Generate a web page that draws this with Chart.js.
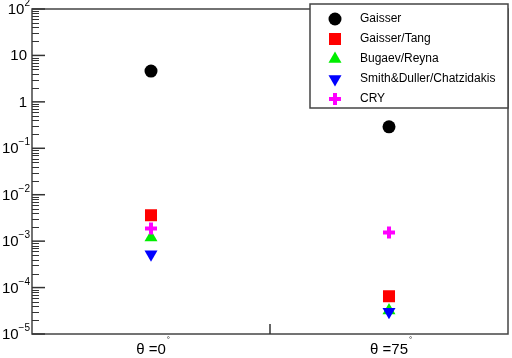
<!DOCTYPE html>
<html>
<head>
<meta charset="utf-8">
<script src="https://cdn.jsdelivr.net/npm/chart.js@4/dist/chart.umd.min.js"></script>
<style>
  html, body { margin: 0; padding: 0; background: #fff; }
  #wrap { width: 512px; height: 358px; }
</style>
</head>
<body>
<div id="wrap"><canvas id="c" width="512" height="358"></canvas></div>
<script>
// data
var categories = ['θ =0', 'θ =75'];
var seriesNames = ['Gaisser', 'Gaisser/Tang', 'Bugaev/Reyna', 'Smith&Duller/Chatzidakis', 'CRY'];
var gaisser = [4.6, 0.29];
var gaisserTang = [3.6e-3, 6.5e-5];
var bugaev = [1.2e-3, 3.2e-5];
var smith = [5.2e-4, 3.0e-5];
var cry = [1.88e-3, 1.54e-3];
// y tick labels: [base, exponent]
var yTickLabels = [['10','2'], ['10',''], ['1',''], ['10','−1'], ['10','−2'], ['10','−3'], ['10','−4'], ['10','−5']];
var yTickValues = [1e2, 1e1, 1, 1e-1, 1e-2, 1e-3, 1e-4, 1e-5];

var FONT = '"Liberation Sans", Arial, sans-serif';

function pts(arr) {
  return arr.map(function (v, i) { return { x: categories[i], y: v }; });
}

// axes, ticks, labels and legend are drawn here
var axesPlugin = {
  id: 'rootAxes',
  afterDraw: function (chart) {
    var ctx = chart.ctx;
    var a = chart.chartArea;
    var ys = chart.scales.y, xs = chart.scales.x;
    ctx.save();
    ctx.strokeStyle = '#444';
    ctx.lineWidth = 1.5;
    ctx.strokeRect(a.left, a.top, a.right - a.left, a.bottom - a.top);

    // y ticks, inside
    ctx.lineWidth = 1;
    ctx.strokeStyle = '#333';
    for (var e = -5; e < 2; e++) {
      for (var m = 2; m <= 9; m++) {
        var py = Math.round(ys.getPixelForValue(m * Math.pow(10, e))) + 0.5;
        ctx.beginPath();
        ctx.moveTo(a.left, py);
        ctx.lineTo(a.left + 7, py);
        ctx.stroke();
      }
    }
    ctx.lineWidth = 1.5;
    yTickValues.forEach(function (v, i) {
      var py = ys.getPixelForValue(v);
      ctx.beginPath();
      ctx.moveTo(a.left, py);
      ctx.lineTo(a.left + 13, py);
      ctx.stroke();
      var base = yTickLabels[i][0], ex = yTickLabels[i][1];
      ctx.fillStyle = '#000';
      ctx.textBaseline = 'alphabetic';
      ctx.font = '10px ' + FONT;
      var ew = ex ? ctx.measureText(ex).width : 0;
      ctx.font = '15px ' + FONT;
      var bw = ctx.measureText(base).width;
      var right = ex ? 30 : 27;
      ctx.textAlign = 'left';
      ctx.fillText(base, right - ew - bw, py + 5);
      if (ex) {
        ctx.font = '10px ' + FONT;
        ctx.fillText(ex, right - ew, py - 3);
      }
    });

    // x middle tick
    var mid = (xs.getPixelForValue(0) + xs.getPixelForValue(1)) / 2;
    ctx.beginPath();
    ctx.moveTo(mid, a.bottom);
    ctx.lineTo(mid, a.bottom - 10);
    ctx.stroke();

    // x labels with degree sign
    categories.forEach(function (c, i) {
      var px = xs.getPixelForValue(i);
      ctx.font = '15px ' + FONT;
      ctx.textAlign = 'center';
      ctx.fillStyle = '#000';
      ctx.fillText(c, px, a.bottom + 20);
      var w = ctx.measureText(c).width;
      ctx.font = '8px ' + FONT;
      ctx.textAlign = 'left';
      ctx.fillText('°', px + w / 2 + 1, a.bottom + 8);
    });

    // legend box
    var lx = 310, ly = 4, lw = a.right - 310, lh = 104;
    ctx.fillStyle = '#fff';
    ctx.fillRect(lx, ly, lw, lh);
    ctx.strokeStyle = '#444';
    ctx.lineWidth = 1.5;
    ctx.strokeRect(lx, ly, lw, lh);
    chart.data.datasets.forEach(function (ds, i) {
      var cy = 19 + i * 20;
      ctx.fillStyle = ds.backgroundColor;
      ctx.strokeStyle = ds.borderColor;
      ctx.lineWidth = ds.pointBorderWidth;
      Chart.helpers.drawPoint(ctx, {
        pointStyle: ds.pointStyle,
        rotation: ds.pointRotation || 0,
        radius: ds.pointRadius,
        borderWidth: ds.pointBorderWidth
      }, 335, cy);
      ctx.fillStyle = '#000';
      ctx.font = '12px ' + FONT;
      ctx.textAlign = 'left';
      ctx.textBaseline = 'middle';
      ctx.fillText(ds.label, 360, cy);
    });
    ctx.restore();
  }
};

var ctx = document.getElementById('c').getContext('2d');
var chart = new Chart(ctx, {
  type: 'scatter',
  data: {
    labels: categories,
    datasets: [{
      label: seriesNames[0],
      data: pts(gaisser),
      pointStyle: 'circle',
      pointRadius: 6.5,
      pointBorderWidth: 0,
      backgroundColor: '#000000',
      borderColor: '#000000',
      order: 5
    }, {
      label: seriesNames[1],
      data: pts(gaisserTang),
      pointStyle: 'rect',
      pointRadius: 8.5,
      pointBorderWidth: 0,
      backgroundColor: '#ff0000',
      borderColor: '#ff0000',
      order: 4
    }, {
      label: seriesNames[2],
      data: pts(bugaev),
      pointStyle: 'triangle',
      pointRadius: 7.5,
      pointBorderWidth: 0,
      backgroundColor: '#00ee00',
      borderColor: '#00ee00',
      order: 3
    }, {
      label: seriesNames[3],
      data: pts(smith),
      pointStyle: 'triangle',
      pointRotation: 180,
      pointRadius: 7.5,
      pointBorderWidth: 0,
      backgroundColor: '#0000ff',
      borderColor: '#0000ff',
      order: 2
    }, {
      label: seriesNames[4],
      data: pts(cry),
      pointStyle: 'cross',
      pointRadius: 6,
      pointBorderWidth: 4,
      backgroundColor: '#ff00ff',
      borderColor: '#ff00ff',
      order: 1
    }]
  },
  options: {
    responsive: false,
    animation: false,
    layout: { autoPadding: false, padding: { left: 32, top: 9, right: 4, bottom: 24 } },
    plugins: { legend: { display: false }, tooltip: { enabled: false } },
    scales: {
      x: { type: 'category', labels: categories, offset: true, display: false },
      y: { type: 'logarithmic', min: 1e-5, max: 1e2, display: false }
    }
  },
  plugins: [axesPlugin]
});
</script>
</body>
</html>
